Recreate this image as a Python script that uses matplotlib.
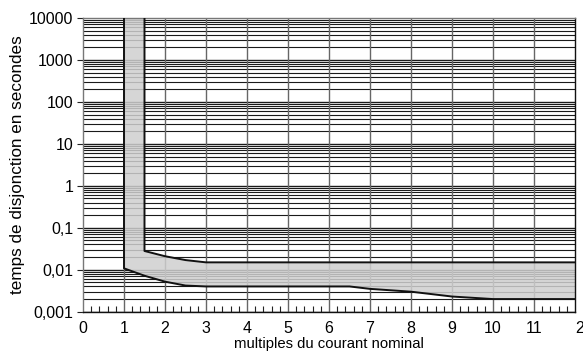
import numpy as np
import matplotlib
matplotlib.use("Agg")
import matplotlib.pyplot as plt
from matplotlib.ticker import FixedLocator, NullFormatter

plt.rcParams["font.family"] = ["Liberation Sans", "DejaVu Sans"]

# upper boundary of the tripping band (multiples of In, seconds)
upper_x = [1.5, 1.5, 2.0, 2.5, 3.0, 12.0]
upper_t = [10000, 0.028, 0.021, 0.017, 0.015, 0.015]
# lower boundary
lower_x = [1.0, 1.0, 1.5, 2.0, 2.5, 3.0, 6.5, 7.0, 8.0, 9.0, 10.0, 12.0]
lower_t = [10000, 0.0108, 0.0072, 0.0052, 0.0042, 0.004, 0.004, 0.0035, 0.003, 0.0023, 0.002, 0.002]

x_ticks = list(range(0, 13))
x_labels = [str(v) for v in x_ticks[:-1]] + ["2"]  # last label is cut in the source
y_ticks = [0.001, 0.01, 0.1, 1, 10, 100, 1000, 10000]
y_labels = ["0,001", "0,01", "0,1", "1", "10", "100", "1000", "10000"]

fig = plt.figure(figsize=(5.83, 3.57), dpi=100)
ax = fig.add_axes([83 / 583, 1 - 311.7 / 357, (575 - 83) / 583, (311.7 - 18) / 357])

ax.set_yscale("log")
ax.set_xlim(0, 12)
ax.set_ylim(0.001, 10000)

# horizontal grid: every 1..9 of each decade
for d in range(-3, 4):
    for m in range(1, 10):
        v = m * 10.0 ** d
        if v > 10000:
            break
        lw = 1.0 if m == 1 else 0.8
        ax.axhline(v, color="#1a1a1a", lw=lw, zorder=1)
for xv in range(1, 12):
    ax.axvline(xv, color="#666666", lw=1.0, zorder=1)

# band
poly_x = upper_x + lower_x[::-1]
poly_t = upper_t + lower_t[::-1]
ax.fill(poly_x, poly_t, color="#cfcfcf", alpha=0.85, zorder=2, lw=0)
ax.plot(upper_x, upper_t, color="#111111", lw=1.4, zorder=3)
ax.plot(lower_x, lower_t, color="#111111", lw=1.4, zorder=3)

ax.set_xticks(x_ticks)
ax.set_xticklabels(x_labels, fontsize=11.5)
ax.get_xticklabels()[-1].set_ha("left")
ax.xaxis.set_minor_locator(FixedLocator([i * 0.2 for i in range(61) if i % 5]))
ax.tick_params(axis="x", which="major", length=0, pad=6.5)
ax.tick_params(axis="x", which="minor", direction="in", length=4, width=0.8, color="#222222")

ax.set_yticks(y_ticks)
ax.set_yticklabels(y_labels, fontsize=11.5)
ax.yaxis.set_minor_formatter(NullFormatter())
ax.tick_params(axis="y", which="major", length=4, width=0.8, color="#222222", pad=3)
ax.tick_params(axis="y", which="minor", length=0)

for s in ["left", "top"]:
    ax.spines[s].set_color("#777777")
ax.spines["bottom"].set_color("#111111")
ax.spines["right"].set_color("#111111")
for s in ax.spines.values():
    s.set_linewidth(1.0)

ax.set_xlabel("multiples du courant nominal", fontsize=10.7, labelpad=1)
ax.set_ylabel("temps de disjonction en secondes", fontsize=12.3, labelpad=3)

fig.savefig("out.png", dpi=100)
